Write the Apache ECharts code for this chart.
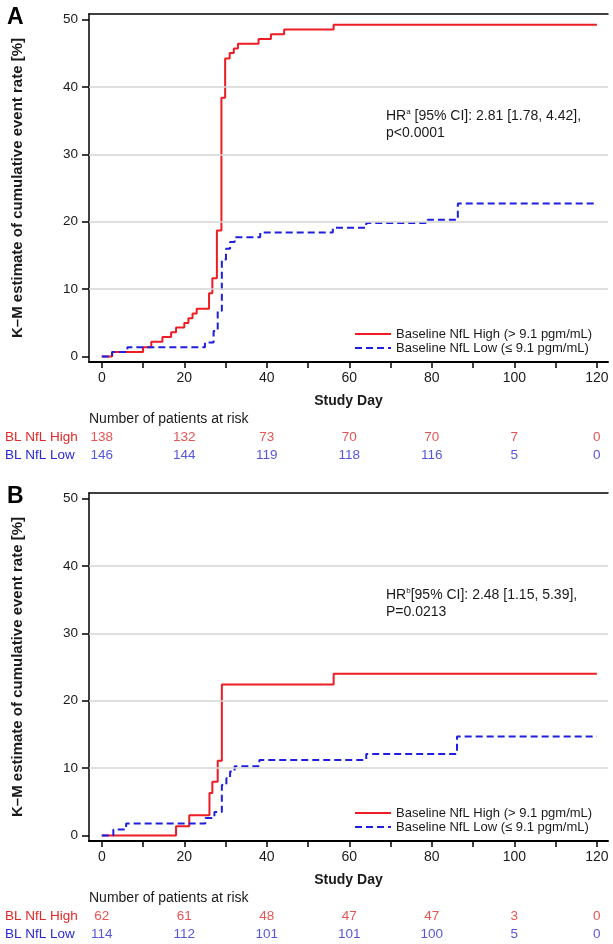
<!DOCTYPE html>
<html><head><meta charset="utf-8">
<script src="https://cdn.jsdelivr.net/npm/echarts@6/dist/echarts.min.js"></script>
<style>html,body{margin:0;padding:0;background:#fff}#c{width:613px;height:944px}</style>
</head><body><div id="c"></div>
<script>
// ---- data ----
const nameHigh = 'Baseline NfL High (> 9.1 pgm/mL)';
const nameLow = 'Baseline NfL Low (\u2264 9.1 pgm/mL)';
const aHigh = [[0,0],[2.5,0.7],[10,1.4],[12,2.2],[14.7,2.9],[16.8,3.6],[18,4.3],[20,5.0],[21,5.7],[22,6.4],[23,7.1],[26,9.4],[26.8,11.6],[27.9,18.7],[29,38.4],[29.9,44.2],[31,45.0],[32,45.7],[33,46.4],[38,47.1],[41,47.8],[44.2,48.5],[56.2,49.2],[120,49.2]];
const aLow = [[0,0],[2.5,0.7],[6.2,1.4],[25,2.1],[27.1,3.8],[28.1,6.8],[29.1,14.4],[30.1,16.0],[31.1,17.0],[32.2,17.7],[38.4,18.4],[56,19.1],[64.1,19.8],[79,20.3],[86.3,22.7],[120,22.7]];
const bHigh = [[0,0],[18,1.4],[21.2,3.0],[26.1,6.3],[26.8,8.0],[28.1,11.1],[29.1,22.4],[56.2,24.0],[120,24.0]];
const bLow = [[0,0],[2.8,0.9],[5.9,1.8],[25.1,2.6],[27.3,3.5],[29.1,7.5],[30.2,8.5],[31.1,9.5],[32.2,10.3],[38.2,11.2],[64.1,12.1],[86.1,14.7],[120,14.7]];
const riskDays = [0,20,40,60,80,100,120];
const riskAHigh = [138,132,73,70,70,7,0];
const riskALow = [146,144,119,118,116,5,0];
const riskBHigh = [62,61,48,47,47,3,0];
const riskBLow = [114,112,101,101,100,5,0];
const riskRows = ['BL NfL High','BL NfL Low'];
const xLabelTicks = [0,20,40,60,80,100,120];
const xTickValues = [0,10,20,30,40,50,60,70,80,90,100,110,120];
const yTickValues = [0,10,20,30,40,50];
const gridValues = [10,20,30,40];

// ---- style ----
const RED = '#ee1c24', BLUE = '#1f1fe0', TXT = '#1a1a1a';
const RED_T = '#e02828', BLUE_T = '#2a2ad0';
const FONT = '"Liberation Sans", Arial, sans-serif';
const XMIN = -3.1, XMAX = 122.7, YMIN = -0.8, YMAX = 50.8;
const L = 89, W = 519, H = 348;
const TOPS = [14, 493];

const chart = echarts.init(document.getElementById('c'), null, {renderer:'canvas'});

const grid = [], xAxis = [], yAxis = [], series = [], legend = [], graphic = [];
const panels = [
  {hi:aHigh, lo:aLow, rh:riskAHigh, rl:riskALow, letter:'A', sup:'a', hr1:' [95% CI]: 2.81 [1.78, 4.42],', hr2:'p<0.0001'},
  {hi:bHigh, lo:bLow, rh:riskBHigh, rl:riskBLow, letter:'B', sup:'b', hr1:'[95% CI]: 2.48 [1.15, 5.39],', hr2:'P=0.0213'}
];
panels.forEach((p, k) => {
  const top = TOPS[k];
  const gi = grid.length;
  grid.push({left:L, top:top, width:W, height:H});
  grid.push({left:L, top:top+414, width:W, height:36});
  const xi = xAxis.length, yi = yAxis.length;
  xAxis.push({
    type:'value', gridIndex:gi, position:'bottom', min:XMIN, max:XMAX,
    axisLine:{show:true, onZero:false, lineStyle:{color:'#000', width:2}},
    axisTick:{show:true, length:6, customValues:xTickValues, lineStyle:{color:'#000', width:1.5}},
    axisLabel:{show:true, customValues:xLabelTicks, margin:9, fontSize:14, color:TXT, fontFamily:FONT},
    splitLine:{show:false},
    name:'Study Day', nameLocation:'middle', nameGap:32,
    nameTextStyle:{fontSize:14, fontWeight:'bold', color:TXT, fontFamily:FONT}
  });
  xAxis.push({
    type:'value', gridIndex:gi, position:'top', min:XMIN, max:XMAX,
    axisLine:{show:true, onZero:false, lineStyle:{color:'#000', width:1.5}},
    axisTick:{show:false}, axisLabel:{show:false}, splitLine:{show:false}
  });
  xAxis.push({type:'value', gridIndex:gi+1, min:XMIN, max:XMAX, show:false});
  yAxis.push({
    type:'value', gridIndex:gi, min:YMIN, max:YMAX,
    axisLine:{show:true, onZero:false, lineStyle:{color:'#000', width:1.5}},
    axisTick:{show:true, length:7, customValues:yTickValues, lineStyle:{color:'#000', width:1.5}},
    axisLabel:{show:true, customValues:yTickValues, margin:11, fontSize:13.5, color:TXT, fontFamily:FONT},
    splitLine:{show:false},
    name:'K\u2013M estimate of cumulative event rate [%]', nameLocation:'middle', nameGap:64, nameRotate:90,
    nameTextStyle:{fontSize:15, fontWeight:'bold', color:TXT, fontFamily:FONT}
  });
  yAxis.push({
    type:'category', gridIndex:gi+1, data:riskRows, inverse:true,
    axisLine:{show:false}, axisTick:{show:false}, splitLine:{show:false},
    axisLabel:{show:true, align:'left', margin:84, fontSize:13, fontFamily:FONT,
      formatter:(v)=> v===riskRows[0] ? '{h|'+v+'}' : '{l|'+v+'}',
      rich:{h:{color:RED_T, fontSize:13.5, fontFamily:FONT}, l:{color:BLUE_T, fontSize:13.5, fontFamily:FONT}}}
  });
  // gridlines
  series.push({
    type:'line', xAxisIndex:xi, yAxisIndex:yi, data:[], silent:true, z:1,
    markLine:{silent:true, symbol:['none','none'], label:{show:false},
      lineStyle:{color:'#d4d4d4', width:1.5, type:'solid'},
      data:gridValues.map(v=>({yAxis:v}))}
  });
  series.push({
    name:nameHigh, type:'line', step:'end', xAxisIndex:xi, yAxisIndex:yi, data:p.hi,
    symbol:'none', z:3, lineStyle:{color:RED, width:2}, itemStyle:{color:RED}
  });
  series.push({
    name:nameLow, type:'line', step:'end', xAxisIndex:xi, yAxisIndex:yi, data:p.lo,
    symbol:'none', z:4, lineStyle:{color:BLUE, width:2, type:[7,4]}, itemStyle:{color:BLUE}
  });
  // risk table
  [[p.rh, 0, RED_T],[p.rl, 1, BLUE_T]].forEach(([arr, row, col]) => {
    series.push({
      type:'scatter', xAxisIndex:xi+2, yAxisIndex:yi+1, symbolSize:0, silent:true,
      data:riskDays.map((d,i)=>[d, row, arr[i]]),
      label:{show:true, position:'inside', formatter:(q)=>String(q.value[2]), color:col, fontSize:13.5, fontFamily:FONT}
    });
  });
  legend.push({
    left:349, top:top+308, orient:'vertical', itemWidth:36, itemHeight:14, itemGap:0,
    selectedMode:false, data:[nameHigh, nameLow],
    itemStyle:{color:'rgba(0,0,0,0)', opacity:0, borderWidth:0},
    textStyle:{fontSize:13, color:TXT, fontFamily:FONT, lineHeight:14}
  });
  graphic.push({type:'text', left:7, top:top-8, style:{text:p.letter, font:'bold 23px '+FONT, fill:'#000'}});
  graphic.push({type:'text', left:89, top:top+398, style:{text:'Number of patients at risk', font:'14px '+FONT, fill:TXT}});
  graphic.push({type:'text', left:386, top:top+94, style:{
    text:'{n|HR}{s|'+p.sup+'}{n|'+p.hr1+'}\n{n|'+p.hr2+'}',
    rich:{n:{fontSize:14, fontFamily:FONT, fill:TXT, lineHeight:17}, s:{fontSize:8, fontFamily:FONT, fill:TXT, verticalAlign:'top', lineHeight:17}}
  }});
});

chart.setOption({
  backgroundColor:'#fff', animation:false,
  textStyle:{fontFamily:FONT},
  grid, xAxis, yAxis, series, legend, graphic
});
</script></body></html>
